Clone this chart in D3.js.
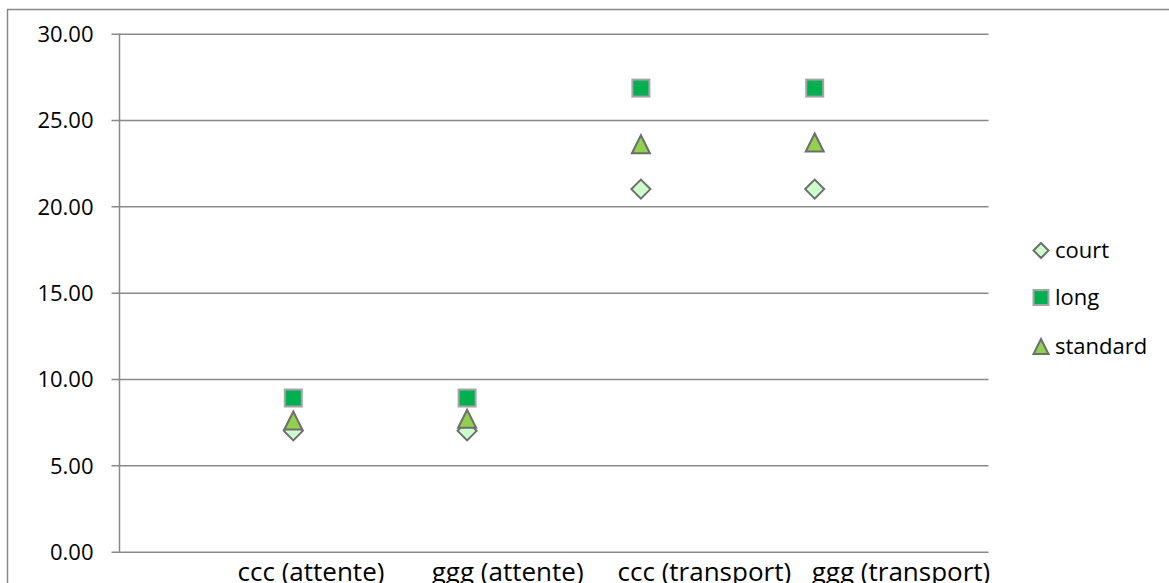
<!DOCTYPE html>
<html>
<head>
<meta charset="utf-8">
<script src="https://cdn.jsdelivr.net/npm/d3@7/dist/d3.min.js"></script>
<style>
  html, body { margin: 0; padding: 0; background: #fff; }
  svg { display: block; }
  text { font-family: "Open Sans", "Liberation Sans", sans-serif; fill: #000; }
</style>
</head>
<body>
<svg id="chart" width="1169" height="583"></svg>
<script>
// Categories along the horizontal axis
const categories = ["ccc (attente)", "ggg (attente)", "ccc (transport)", "ggg (transport)"];

// Series values, one per category
const court    = [7.0, 7.0, 21.0, 21.0];
const long     = [8.9, 8.9, 26.85, 26.85];
const standard = [7.6, 7.7, 23.6, 23.7];

// Value axis ticks
const yTicks = [0, 5, 10, 15, 20, 25, 30];

const seriesNames = ["court", "long", "standard"];

const svg = d3.select("#chart");
const W = 1169, H = 583;

// Outer chart frame
svg.append("rect")
  .attr("x", 7.5).attr("y", 9.5)
  .attr("width", 1200).attr("height", 600)
  .attr("fill", "#fff")
  .attr("stroke", "#898989").attr("stroke-width", 1.5);

const plot = { left: 119.5, right: 988.5, top: 33.7, bottom: 551.7 };

// Categories sit at positions 1..4 of a 0..5 axis
const x = d3.scaleLinear().domain([0, categories.length + 1]).range([plot.left, plot.right]);
const y = d3.scaleLinear().domain([0, 30]).range([plot.bottom, plot.top]);

// Horizontal gridlines with short outward ticks
const gridColor = "#898989";
const yAxis = d3.axisLeft(y)
  .tickValues(yTicks)
  .tickSize(-(plot.right - plot.left))
  .tickPadding(0)
  .tickFormat(d3.format(".2f"));

const yG = svg.append("g")
  .attr("transform", `translate(${plot.left},0)`)
  .call(yAxis);
yG.select(".domain").remove();
yG.selectAll(".tick line")
  .attr("x1", -8)
  .attr("stroke", gridColor).attr("stroke-width", 1.5);
yG.selectAll(".tick text")
  .attr("x", -26)
  .attr("dy", "0.36em")
  .style("font-size", "22px")
  .style("font-family", "'Open Sans', sans-serif")
  .attr("fill", "#000");

// Vertical value-axis line
svg.append("line")
  .attr("x1", plot.left).attr("x2", plot.left)
  .attr("y1", plot.top).attr("y2", plot.bottom)
  .attr("stroke", gridColor).attr("stroke-width", 1.5);

// Category labels
const labelScale = d3.scalePoint()
  .domain(categories)
  .range([311, 901]);
svg.append("g").selectAll("text")
  .data(categories)
  .join("text")
  .attr("x", d => labelScale(d))
  .attr("y", 581)
  .attr("text-anchor", "middle")
  .style("font-size", "26px")
  .text(d => d);

// Marker shapes
function diamondPath(s) {
  const h = s / 2;
  return `M0,${-h}L${h},0L0,${h}L${-h},0Z`;
}
function trianglePath(s) {
  const h = s / 2;
  return `M0,${-h}L${h},${h}L${-h},${h}Z`;
}

const styles = {
  court:    { fill: "#ccffcc", stroke: "#6e6e6e", path: s => diamondPath(s), size: 19 },
  long:     { fill: "#00b050", stroke: "#a5a5a5", path: null, size: 17 },
  standard: { fill: "#92d050", stroke: "#6e6e6e", path: s => trianglePath(s), size: 18 }
};

const seriesData = { court, long, standard };

// Draw order: court, long, standard (standard on top)
seriesNames.forEach(name => {
  const st = styles[name];
  const g = svg.append("g");
  const vals = seriesData[name];
  vals.forEach((v, i) => {
    const cx = x(i + 1), cy = y(v);
    if (name === "long") {
      g.append("rect")
        .attr("x", cx - st.size / 2).attr("y", cy - st.size / 2)
        .attr("width", st.size).attr("height", st.size)
        .attr("fill", st.fill).attr("stroke", st.stroke).attr("stroke-width", 2);
    } else {
      g.append("path")
        .attr("d", st.path(st.size))
        .attr("transform", `translate(${cx},${cy})`)
        .attr("fill", st.fill).attr("stroke", st.stroke).attr("stroke-width", 2)
        .attr("stroke-linejoin", "miter");
    }
  });
});

// Legend
const legend = svg.append("g");
const legendRows = [250.5, 297.5, 346.5];
seriesNames.forEach((name, i) => {
  const st = styles[name];
  const cy = legendRows[i], cx = 1041;
  if (name === "long") {
    legend.append("rect")
      .attr("x", cx - 7.5).attr("y", cy - 7.5)
      .attr("width", 15).attr("height", 15)
      .attr("fill", st.fill).attr("stroke", st.stroke).attr("stroke-width", 2);
  } else {
    legend.append("path")
      .attr("d", st.path(name === "court" ? 15 : 15))
      .attr("transform", `translate(${cx},${cy})`)
      .attr("fill", st.fill).attr("stroke", st.stroke).attr("stroke-width", 2);
  }
  legend.append("text")
    .attr("x", 1055)
    .attr("y", cy)
    .attr("dy", "0.36em")
    .style("font-size", "22px")
    .text(name);
});
</script>
</body>
</html>
